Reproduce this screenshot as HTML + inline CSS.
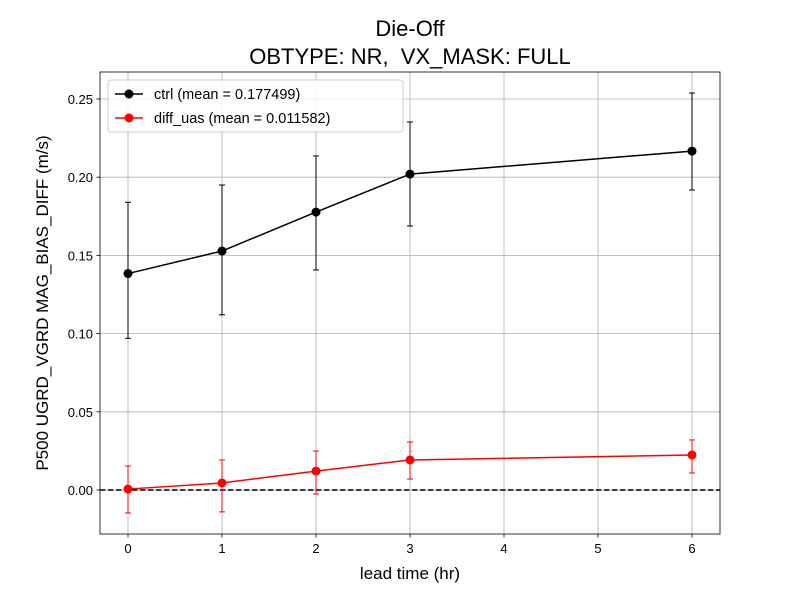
<!DOCTYPE html>
<html><head><meta charset="utf-8"><style>
body{margin:0;background:#fff}
svg{font-family:"Liberation Sans","DejaVu Sans",sans-serif}
</style></head><body>
<svg id="chart" width="800" height="600"></svg>
<script>
const leads=[0,1,2,3,6];
const ctrlVals=[0.1384,0.1528,0.1777,0.2020,0.2167];
const ctrlHi=[0.184,0.195,0.2136,0.2353,0.2538];
const ctrlLo=[0.097,0.112,0.1407,0.1688,0.1918];
const diffVals=[0.0006,0.0045,0.0121,0.0192,0.0224];
const diffHi=[0.0153,0.0192,0.0249,0.0307,0.032];
const diffLo=[-0.0147,-0.014,-0.0026,0.007,0.0109];
const xTicks=[0,1,2,3,4,5,6];
const yTicks=[0,0.05,0.10,0.15,0.20,0.25];
const L=100,R=720,T=72,B=534;
const X=v=>128+v*94;
const Y=v=>490-v*1564;
const svg=document.getElementById('chart');
const NS='http://www.w3.org/2000/svg';
function mk(t,a,p){const e=document.createElementNS(NS,t);for(const k in a)e.setAttribute(k,a[k]);(p||svg).appendChild(e);return e;}
let e;
e=mk('rect',{x:L,y:T,width:R-L,height:B-T,fill:'#fff'});


xTicks.forEach(t=>{
 e=mk('line',{x1:X(t),x2:X(t),y1:T,y2:B,stroke:'#b0b0b0','stroke-width':0.8});
 
 
 mk('line',{x1:X(t),x2:X(t),y1:B,y2:B+3.5,stroke:'#000','stroke-width':0.8});
 e=mk('text',{x:X(t),y:B+19,'font-size':13,'text-anchor':'middle'});e.textContent=t;
 
 
});
yTicks.forEach(t=>{
 e=mk('line',{x1:L,x2:R,y1:Y(t),y2:Y(t),stroke:'#b0b0b0','stroke-width':0.8});
 
 
 mk('line',{x1:L-3.5,x2:L,y1:Y(t),y2:Y(t),stroke:'#000','stroke-width':0.8});
 e=mk('text',{x:L-7,y:Y(t)+5,'font-size':13,'text-anchor':'end'});e.textContent=t.toFixed(2);
 
 
});
e=mk('line',{x1:L,x2:R,y1:Y(0),y2:Y(0),stroke:'#000','stroke-width':1.5,'stroke-dasharray':'5.5,2.5'});


function series(vals,hi,lo,col,name){
 const g=mk('g',{});
 
 
 leads.forEach((l,i)=>{
  mk('line',{x1:X(l),x2:X(l),y1:Y(hi[i]),y2:Y(lo[i]),stroke:col,'stroke-width':1},g);
  mk('line',{x1:X(l)-3,x2:X(l)+3,y1:Y(hi[i]),y2:Y(hi[i]),stroke:col,'stroke-width':1},g);
  mk('line',{x1:X(l)-3,x2:X(l)+3,y1:Y(lo[i]),y2:Y(lo[i]),stroke:col,'stroke-width':1},g);
 });
 mk('polyline',{points:leads.map((l,i)=>X(l)+','+Y(vals[i])).join(' '),fill:'none',stroke:col,'stroke-width':1.5},g);
 leads.forEach((l,i)=>{
  const c=mk('circle',{cx:X(l),cy:Y(vals[i]),r:4.5,fill:col},g);
  
  
 });
}
series(ctrlVals,ctrlHi,ctrlLo,'#000','ctrl');
series(diffVals,diffHi,diffLo,'#f00','diff-uas');
e=mk('rect',{x:L,y:T,width:R-L,height:B-T,fill:'none',stroke:'#000','stroke-width':0.8});


const lg=mk('g',{});


mk('rect',{x:108,y:80,width:295,height:52,rx:3,fill:'#fff','fill-opacity':0.8,stroke:'#ccc'},lg);
[['ctrl (mean = 0.177499)','#000',94],['diff_uas (mean = 0.011582)','#f00',118]].forEach(([t,c,y])=>{
 mk('line',{x1:115,x2:143,y1:y,y2:y,stroke:c,'stroke-width':1.5},lg);
 mk('circle',{cx:129,cy:y,r:4.5,fill:c},lg);
 const tx=mk('text',{x:154,y:y+5,'font-size':14.5},lg);tx.textContent=t;
 
 
});
e=mk('text',{x:410,y:36,'font-size':22,'text-anchor':'middle'});e.textContent='Die-Off';


e=mk('text',{x:410,y:64,'font-size':22,'text-anchor':'middle',style:'white-space:pre'});e.textContent='OBTYPE: NR,  VX_MASK: FULL';


e=mk('text',{x:410,y:579,'font-size':17,'text-anchor':'middle'});e.textContent='lead time (hr)';


e=mk('text',{x:48,y:303,'font-size':17,'text-anchor':'middle',transform:'rotate(-90 48 303)'});e.textContent='P500 UGRD_VGRD MAG_BIAS_DIFF (m/s)';


</script>
</body></html>
